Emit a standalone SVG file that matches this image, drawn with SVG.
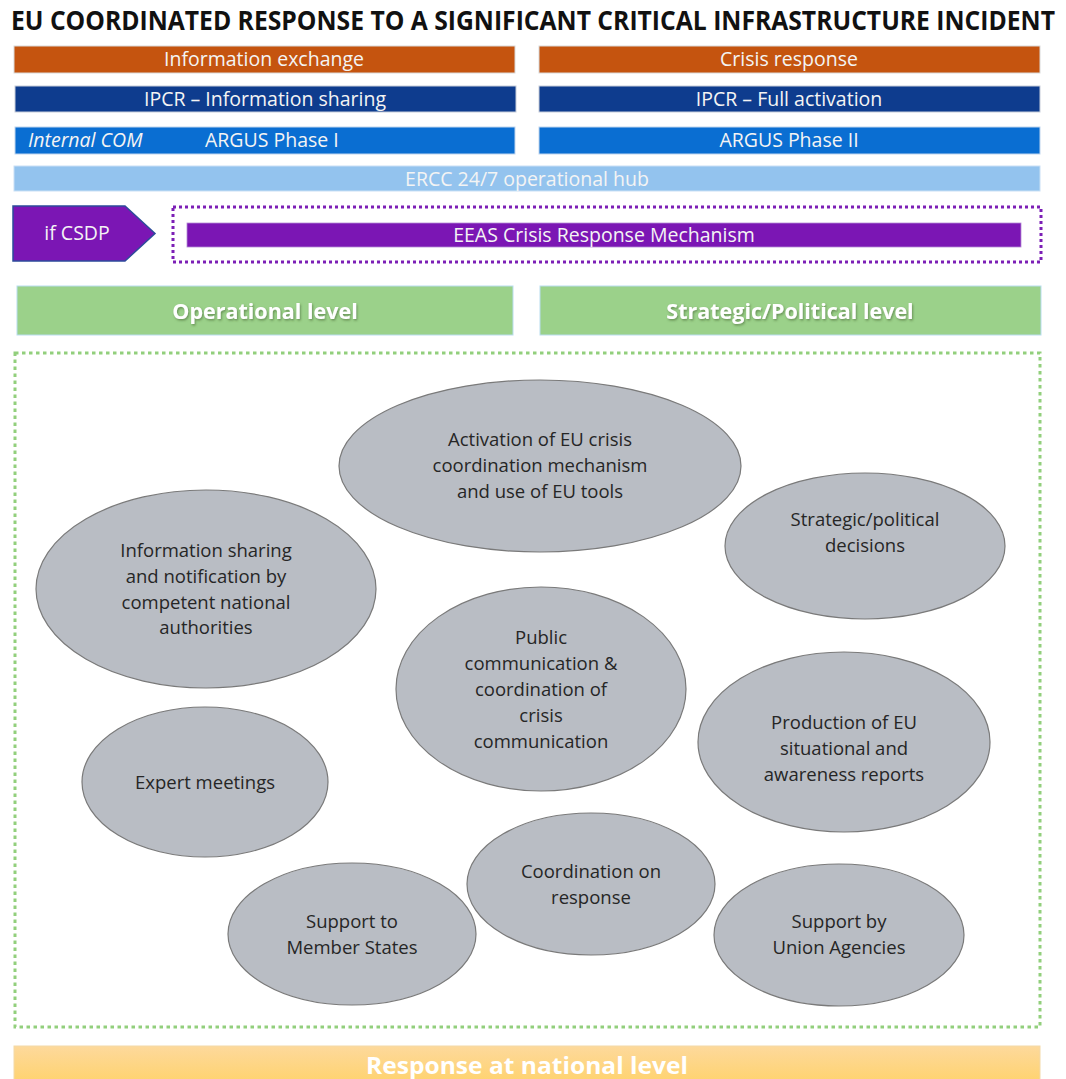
<svg xmlns="http://www.w3.org/2000/svg" width="1066" height="1079" viewBox="0 0 1066 1079">
<defs>
<style>
.bt{font-family:"Open Sans","Liberation Sans",sans-serif;font-size:19.5px;fill:#F4F4F4;text-anchor:middle}
.bs{font-family:"Open Sans","Liberation Sans",sans-serif;font-size:19.5px;fill:#F4F4F4;text-anchor:start}
.et{font-family:"Open Sans","Liberation Sans",sans-serif;font-size:18.5px;fill:#262626;text-anchor:middle}
.ell{fill:#B9BDC4;stroke:#7A7A7A;stroke-width:1.2}
.lvl{font-family:"Open Sans","Liberation Sans",sans-serif;font-size:21.5px;font-weight:bold;fill:#FFFFFF;text-anchor:middle}
.orange{fill:#C5540F;stroke:#D9D9D9;stroke-width:1}
.navy{fill:#0E3C8E;stroke:#C8CEDA;stroke-width:1}
.blue{fill:#0A6ED2;stroke:#BFD5EE;stroke-width:1}
</style>
<filter id="sh" x="-10%" y="-30%" width="120%" height="160%">
<feDropShadow dx="1" dy="1.5" stdDeviation="1" flood-color="#3A5A2A" flood-opacity="0.55"/>
</filter>
<linearGradient id="yg" x1="0" y1="0" x2="0" y2="1">
<stop offset="0" stop-color="#FDD99C"/>
<stop offset="1" stop-color="#FFD26A"/>
</linearGradient>
</defs>
<rect width="1066" height="1079" fill="#FFFFFF"/>
<g id="title" transform="scale(1,1.28)"><text x="11" y="23.4" font-family="'Open Sans','Liberation Sans',sans-serif" font-size="21" font-weight="bold" fill="#111111" textLength="1044" lengthAdjust="spacingAndGlyphs">EU COORDINATED RESPONSE TO A SIGNIFICANT CRITICAL INFRASTRUCTURE INCIDENT</text></g>

<g id="info-exchange"><rect class="orange" x="14" y="46" width="501" height="27"/><text class="bt" x="264" y="66">Information exchange</text></g>
<g id="crisis-response"><rect class="orange" x="539" y="46" width="501" height="27"/><text class="bt" x="789" y="66">Crisis response</text></g>
<g id="ipcr-info"><rect class="navy" x="15" y="86" width="501" height="26"/><text class="bt" x="265" y="106">IPCR – Information sharing</text></g>
<g id="ipcr-full"><rect class="navy" x="539" y="86" width="501" height="26"/><text class="bt" x="789" y="106">IPCR – Full activation</text></g>
<g id="argus-1"><rect class="blue" x="15" y="127" width="500" height="27"/><text class="bs" x="28" y="147" font-style="italic">Internal COM</text><text class="bs" x="205" y="147">ARGUS Phase I</text></g>
<g id="argus-2"><rect class="blue" x="539" y="127" width="501" height="27"/><text class="bt" x="789" y="147">ARGUS Phase II</text></g>
<g id="ercc"><rect x="14" y="166" width="1026" height="25" fill="#93C3EE" stroke="#C9E0F5" stroke-width="1"/><text class="bt" x="527" y="186" fill="#E9F1FA">ERCC 24/7 operational hub</text></g>

<g id="if-csdp"><polygon points="13,206 125,206 155,233.5 125,261 13,261" fill="#7B16B4" stroke="#2D4B9B" stroke-width="1.5"/><text class="bt" x="77" y="240">if CSDP</text></g>
<g id="eeas"><rect x="173" y="207" width="868" height="55" fill="none" stroke="#7C1FB6" stroke-width="3" stroke-dasharray="3 3"/><rect x="187" y="223" width="834" height="24" fill="#7B16B4" stroke="#B58AD4" stroke-width="0.8"/><text class="bt" x="604" y="242">EEAS Crisis Response Mechanism</text></g>

<g id="operational-level"><rect x="17" y="286" width="496" height="49" fill="#9BD18A" stroke="#B9DDF0" stroke-width="1"/><text class="lvl" x="265" y="319" filter="url(#sh)">Operational  level</text></g>
<g id="strategic-level"><rect x="540" y="286" width="501" height="49" fill="#9BD18A" stroke="#B9DDF0" stroke-width="1"/><text class="lvl" x="790" y="319" filter="url(#sh)">Strategic/Political  level</text></g>

<g id="response-area"><rect x="15" y="353" width="1025" height="674" fill="none" stroke="#92CF7C" stroke-width="3" stroke-dasharray="3.5 3.5"/></g>

<g id="activation"><ellipse class="ell" cx="540" cy="466" rx="201" ry="86"/><text class="et"><tspan x="540" y="446">Activation of EU crisis</tspan><tspan x="540" y="472">coordination mechanism</tspan><tspan x="540" y="498">and use of EU tools</tspan></text></g>
<g id="strategic-decisions"><ellipse class="ell" cx="865" cy="546" rx="140" ry="73"/><text class="et"><tspan x="865" y="526">Strategic/political</tspan><tspan x="865" y="552">decisions</tspan></text></g>
<g id="information-sharing"><ellipse class="ell" cx="206" cy="589" rx="170" ry="99"/><text class="et"><tspan x="206" y="557">Information sharing</tspan><tspan x="206" y="583">and notification by</tspan><tspan x="206" y="609">competent national</tspan><tspan x="206" y="634">authorities</tspan></text></g>
<g id="public-communication"><ellipse class="ell" cx="541" cy="689" rx="145" ry="102"/><text class="et"><tspan x="541" y="644">Public</tspan><tspan x="541" y="670">communication &amp;</tspan><tspan x="541" y="696">coordination of</tspan><tspan x="541" y="722">crisis</tspan><tspan x="541" y="748">communication</tspan></text></g>
<g id="production-reports"><ellipse class="ell" cx="844" cy="742" rx="146" ry="90"/><text class="et"><tspan x="844" y="729">Production of EU</tspan><tspan x="844" y="755">situational and</tspan><tspan x="844" y="781">awareness reports</tspan></text></g>
<g id="expert-meetings"><ellipse class="ell" cx="205" cy="782" rx="123" ry="75"/><text class="et" x="205" y="789">Expert meetings</text></g>
<g id="coordination-response"><ellipse class="ell" cx="591" cy="884" rx="124" ry="71"/><text class="et"><tspan x="591" y="878">Coordination on</tspan><tspan x="591" y="904">response</tspan></text></g>
<g id="support-member-states"><ellipse class="ell" cx="352" cy="934" rx="124" ry="71"/><text class="et"><tspan x="352" y="928">Support to</tspan><tspan x="352" y="954">Member States</tspan></text></g>
<g id="support-union-agencies"><ellipse class="ell" cx="839" cy="935" rx="125" ry="71"/><text class="et"><tspan x="839" y="928">Support by</tspan><tspan x="839" y="954">Union Agencies</tspan></text></g>

<g id="national-level"><rect x="14" y="1046" width="1026" height="40" fill="url(#yg)" stroke="#F3D9A8" stroke-width="1"/><text x="527" y="1074" font-family="'Open Sans','Liberation Sans',sans-serif" font-size="24" font-weight="bold" fill="#FFFFFF" text-anchor="middle" textLength="322" lengthAdjust="spacingAndGlyphs">Response at national level</text></g>

<g id="connectors"></g>
</svg>
